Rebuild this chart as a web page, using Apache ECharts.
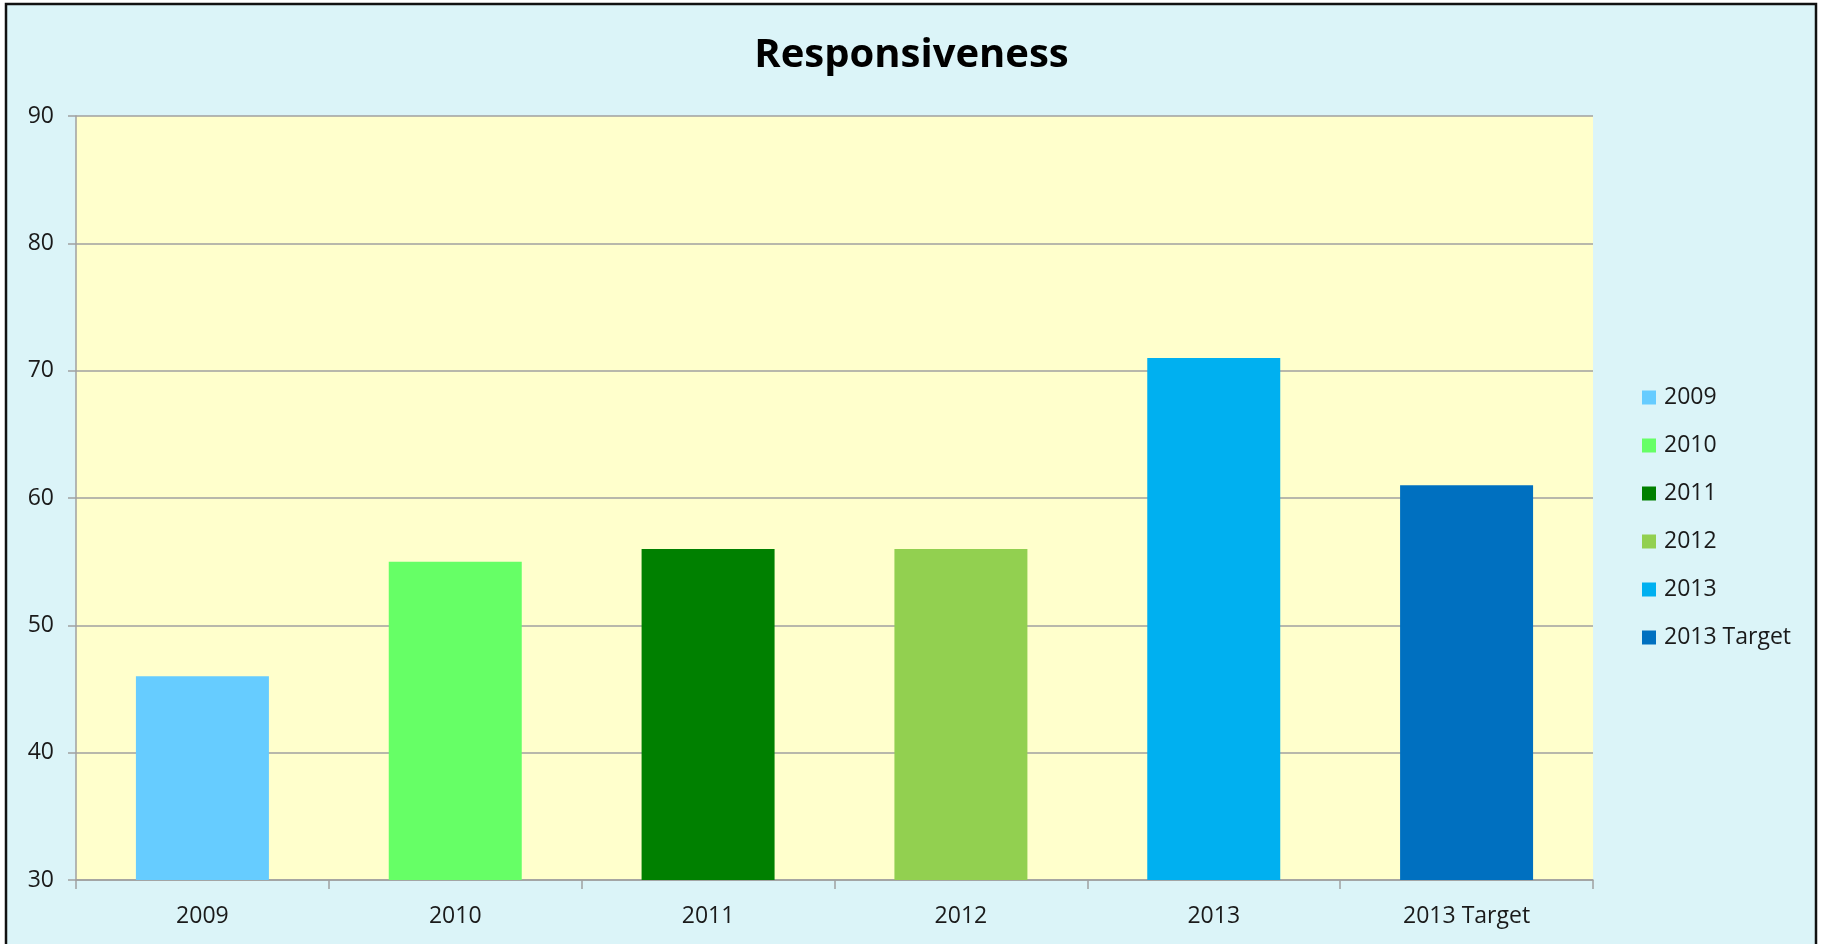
<!DOCTYPE html>
<html>
<head>
<meta charset="utf-8">
<script src="https://cdn.jsdelivr.net/npm/echarts@6/dist/echarts.min.js"></script>
<style>
html,body{margin:0;padding:0;background:#fff;}
#c{width:1823px;height:944px;}
</style>
</head>
<body>
<div id="c"></div>
<script>
var categories = ['2009', '2010', '2011', '2012', '2013', '2013 Target'];
var values = [46, 55, 56, 56, 71, 61];
var colors = ['#66CCFF', '#66FF66', '#008000', '#92D050', '#00B0F0', '#0070C0'];
var yTicks = [30, 40, 50, 60, 70, 80, 90];

var FONT = '"Open Sans", "Noto Sans", sans-serif';
var series = categories.map(function (name, i) {
  return {
    name: name,
    type: 'bar',
    stack: 'all',
    barWidth: '52.6%',
    itemStyle: { color: colors[i] },
    data: categories.map(function (c, j) { return j === i ? values[i] : '-'; })
  };
});

var chart = echarts.init(document.getElementById('c'));
chart.setOption({
  backgroundColor: '#ffffff',
  animation: false,
  graphic: [{
    type: 'rect',
    shape: { x: 6, y: 4, width: 1810, height: 960 },
    style: { fill: '#DBF4F8', stroke: '#111111', lineWidth: 2.5 },
    z: -10
  }],
  title: {
    text: 'Responsiveness',
    left: 'center',
    top: 31,
    textStyle: { fontFamily: FONT, fontWeight: 'bold', fontSize: 40, color: '#000' }
  },
  legend: {
    orient: 'vertical',
    left: 1637,
    top: 381,
    itemWidth: 14,
    itemHeight: 14,
    itemGap: 25,
    icon: 'rect',
    data: categories,
    textStyle: { fontFamily: FONT, fontSize: 23, color: '#1a1a1a', padding: [0, 0, 0, 3] }
  },
  grid: { left: 76, top: 116, width: 1517, height: 764, show: true, backgroundColor: '#FFFFCC', borderWidth: 0 },
  xAxis: {
    type: 'category',
    data: categories,
    axisLine: { lineStyle: { color: '#A0A0A0', width: 1.5 } },
    axisTick: { show: true, length: 9, lineStyle: { color: '#A0A0A0', width: 1.5 } },
    axisLabel: { fontFamily: FONT, fontSize: 23, color: '#1a1a1a', margin: 25 }
  },
  yAxis: {
    type: 'value',
    min: yTicks[0],
    max: yTicks[yTicks.length - 1],
    interval: 10,
    axisLine: { show: true, lineStyle: { color: '#A0A0A0', width: 1.5 } },
    axisTick: { show: true, length: 8, lineStyle: { color: '#A0A0A0', width: 1.5 } },
    splitLine: { show: true, lineStyle: { color: '#A0A0A0', width: 1.5 } },
    axisLabel: { fontFamily: FONT, fontSize: 23, color: '#1a1a1a', margin: 22 }
  },
  series: series
});
</script>
</body>
</html>
